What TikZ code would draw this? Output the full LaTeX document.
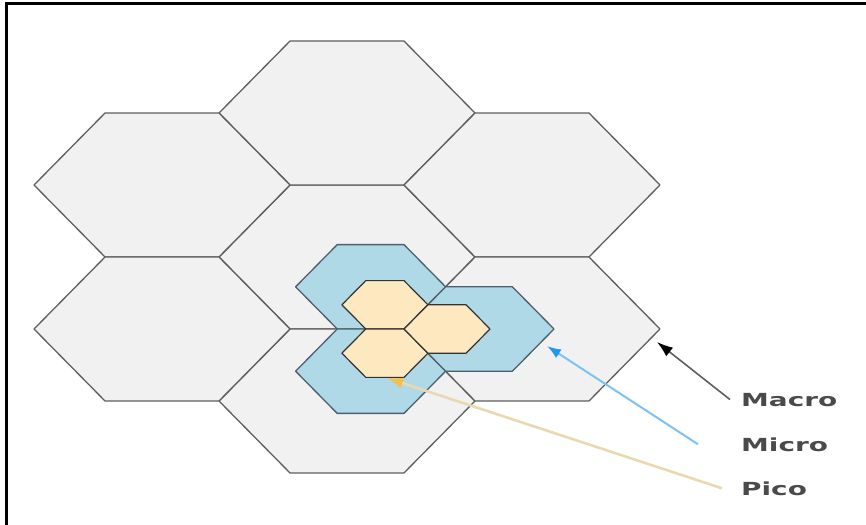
\documentclass[tikz,border=0pt]{standalone}
\usepackage{fontspec}
\setmainfont{DejaVu Sans}
\newfontfamily\tagfont[FakeStretch=1.55]{DejaVu Sans Bold}
\usetikzlibrary{arrows.meta,positioning}

\definecolor{macrofill}{HTML}{F1F1F1}
\definecolor{macroline}{HTML}{5E5E5E}
\definecolor{microfill}{HTML}{B0D9E7}
\definecolor{microline}{HTML}{4E5E6A}
\definecolor{picofill}{HTML}{FDE8BF}
\definecolor{picoline}{HTML}{333333}
\definecolor{microarrow}{HTML}{7CC2F2}
\definecolor{microtip}{HTML}{2196F3}
\definecolor{picoarrow}{HTML}{E9D9B2}
\definecolor{picotip}{HTML}{F5C04A}
\definecolor{tagtext}{HTML}{4A4A4A}

\tikzset{
  % one flat-topped cell, unit half-width
  cell/.pic={\path[pic actions] (-1,0) -- (-.445,-.5625) -- (.445,-.5625)
      -- (1,0) -- (.445,.5625) -- (-.445,.5625) -- cycle;},
  macrocell/.style={draw=macroline, fill=macrofill, line width=1.3pt,
      line join=round, scale=128},
  microcell/.style={draw=microline, fill=microfill, line width=1.3pt,
      line join=round, scale=75},
  picocell/.style={draw=picoline, fill=picofill, line width=1.2pt,
      line join=round, scale=43},
  tag/.style={anchor=base west, inner sep=0pt, text=tagtext,
      font=\tagfont\fontsize{18}{20}\selectfont},
  line/.style={line width=1.6pt}
}

\begin{document}
\begin{tikzpicture}[x=1pt,y=-1pt]
  \useasboundingbox (0,0) rectangle (866,524);
  \draw[line width=3pt] (6,530) -- (6,4) -- (870,4);

  % macro layer
  \foreach \cx/\cy in {347/257, 347/113, 347/401, 162/185, 162/329,
                       532/185, 532/329}
    \pic[macrocell] at (\cx,\cy) {cell};

  % micro layer, all three meet at the macro corner (404,329)
  \foreach \cx/\cy in {370.6/286.8, 370.6/371.2, 479/329}
    \pic[microcell] at (\cx,\cy) {cell};

  % pico layer
  \foreach \cx/\cy in {384.9/304.8, 384.9/353.2, 447/329}
    \pic[picocell] at (\cx,\cy) {cell};

  \coordinate (macro-tip) at (657,342);
  \coordinate (micro-tip) at (547,346);
  \coordinate (pico-tip)  at (387,378);

  \node[tag] (macro) at (741,406) {Macro};
  \node[tag] (micro) at (741,451) {Micro};
  \node[tag] (pico)  at (741,495) {Pico};

  \draw[line, draw=macroline, -{Latex[length=16pt,width=11pt,color=black]}]
    ([xshift=-11pt]macro.west) -- (macro-tip);
  \draw[line, line width=2pt, draw=microarrow,
        -{Latex[length=14pt,width=10pt,color=microtip]}]
    ([xshift=-43pt]micro.west) -- (micro-tip);
  \draw[line, line width=2.6pt, draw=picoarrow,
        -{Latex[length=16pt,width=11pt,color=picotip]}]
    ([xshift=-19pt]pico.west) -- (pico-tip);
\end{tikzpicture}
\end{document}
